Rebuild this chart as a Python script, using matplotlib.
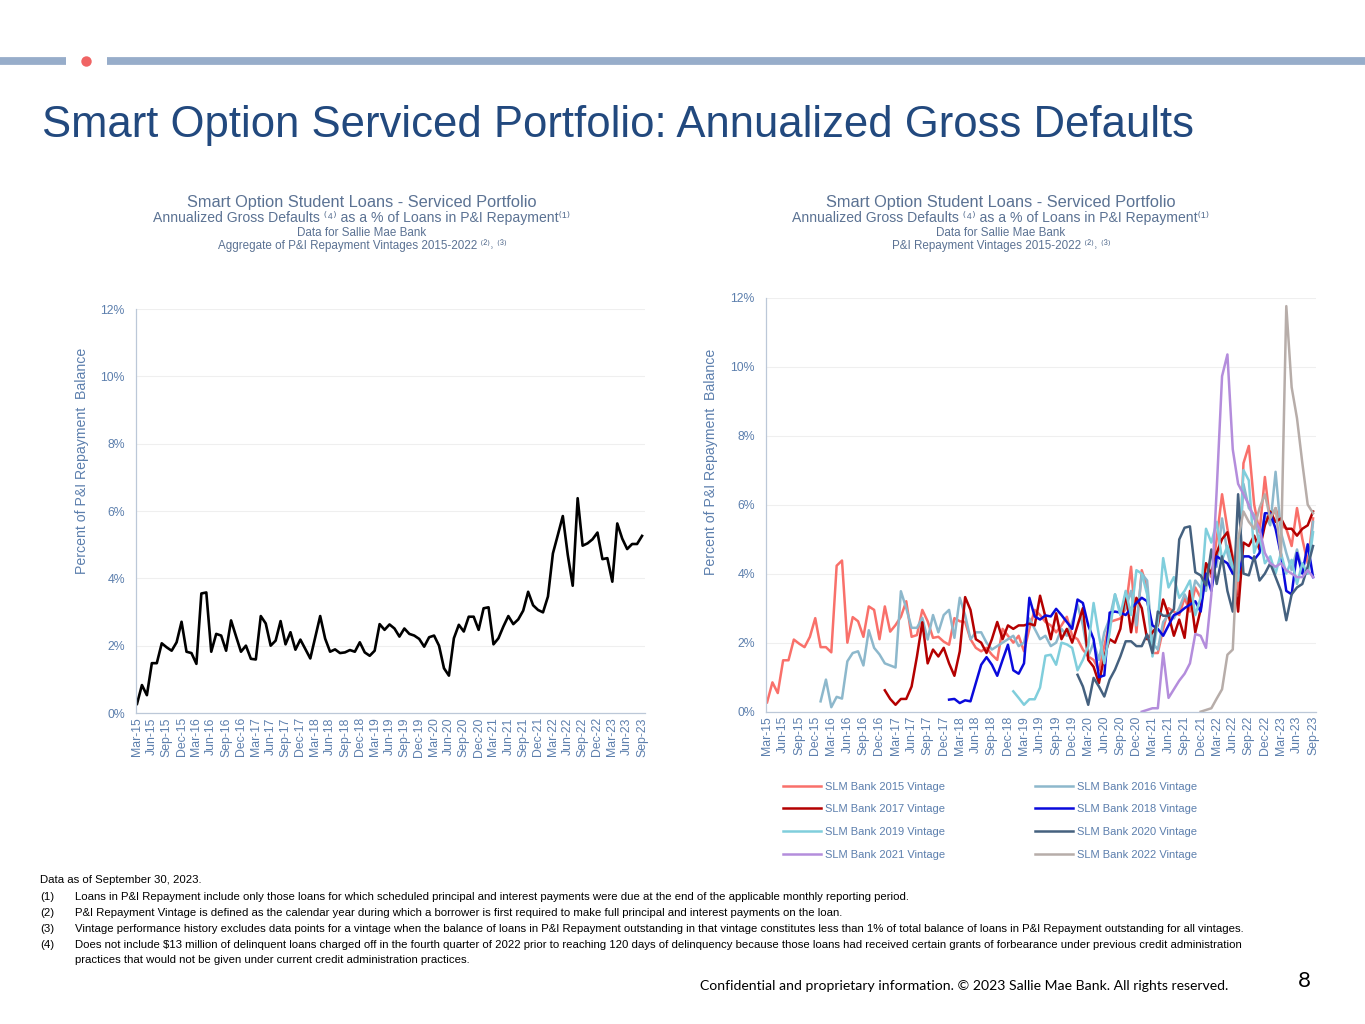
import numpy as np
import pandas as pd
import matplotlib
matplotlib.use("Agg")
import matplotlib.pyplot as plt
from matplotlib.lines import Line2D

plt.rcParams['font.family'] = ['Liberation Sans', 'DejaVu Sans']

# monthly points Mar-15 .. Sep-23, axis labels every quarter
months = pd.date_range('2015-03-01', '2023-09-01', freq='MS').strftime('%b-%y').tolist()
tick_labels = months[::3]

# aggregate of P&I repayment vintages 2015-2022 (%)
aggregate = [0.27, 0.83, 0.53, 1.48, 1.48, 2.07, 1.95, 1.85, 2.10, 2.71,
             1.82, 1.78, 1.46, 3.55, 3.58, 1.82, 2.35, 2.30, 1.85, 2.75,
             2.28, 1.82, 2.00, 1.61, 1.59, 2.88, 2.66, 2.00, 2.15, 2.73,
             2.04, 2.40, 1.88, 2.18, 1.90, 1.62, 2.25, 2.88, 2.21, 1.82,
             1.89, 1.78, 1.80, 1.87, 1.82, 2.10, 1.80, 1.70, 1.85, 2.64,
             2.47, 2.63, 2.51, 2.27, 2.51, 2.35, 2.30, 2.20, 1.97, 2.25,
             2.30, 2.00, 1.33, 1.11, 2.22, 2.62, 2.42, 2.86, 2.86, 2.47,
             3.11, 3.14, 2.04, 2.22, 2.57, 2.88, 2.64, 2.78, 3.04, 3.60,
             3.20, 3.06, 2.99, 3.46, 4.74, 5.29, 5.85, 4.70, 3.78, 6.38,
             4.97, 5.04, 5.16, 5.36, 4.57, 4.60, 3.90, 5.63, 5.18, 4.87,
             5.02, 5.02, 5.26]

# per-vintage series (%), each starting at its first month
v2015_start = 'Mar-15'
v2015 = [0.27, 0.85, 0.54, 1.49, 1.49, 2.09, 1.97, 1.87, 2.17, 2.71,
         1.87, 1.87, 1.72, 4.23, 4.38, 2.00, 2.74, 2.62, 2.17, 3.05,
         2.95, 2.10, 3.05, 2.32, 2.51, 2.75, 3.20, 2.17, 2.22, 2.95,
         2.62, 2.14, 2.17, 2.03, 1.94, 2.71, 2.62, 2.60, 2.10, 1.85,
         1.75, 1.85, 1.65, 1.50, 2.40, 2.20, 2.00, 2.20, 1.75, 2.40,
         2.95, 2.80, 2.60, 2.50, 2.30, 2.50, 2.75, 2.20, 2.10, 1.80,
         1.60, 1.50, 1.20, 1.90, 2.60, 2.65, 2.70, 3.00, 4.20, 2.30,
         4.10, 3.60, 1.70, 1.70, 2.40, 3.00, 2.90, 2.80, 3.30, 2.90,
         3.60, 3.30, 4.30, 3.90, 5.00, 6.30, 5.30, 4.50, 3.40, 7.20,
         7.70, 6.00, 5.20, 6.80, 5.50, 5.90, 5.40, 5.30, 4.80, 5.90,
         5.00, 4.30, 5.60]
v2016_start = 'Jan-16'
v2016 = [0.30, 0.93, 0.13, 0.43, 0.38, 1.46, 1.70, 1.75, 1.34, 2.36,
         1.85, 1.66, 1.40, 1.34, 1.28, 3.49, 3.00, 2.43, 2.43, 2.72,
         2.09, 2.80, 2.30, 2.80, 2.95, 2.14, 3.30, 2.80, 2.10, 2.30,
         2.30, 2.00, 1.80, 1.90, 2.00, 2.10, 2.20, 1.90, 2.00, 2.70,
         2.40, 2.10, 2.20, 1.90, 2.00, 2.40, 2.20, 2.60, 3.10, 2.50,
         1.60, 2.00, 1.50, 2.30, 2.70, 3.40, 2.90, 3.00, 3.50, 2.50,
         4.00, 3.80, 2.00, 1.80, 2.60, 2.80, 2.70, 3.00, 3.40, 3.10,
         3.80, 3.60, 3.50, 4.60, 4.20, 5.60, 4.60, 4.00, 3.80, 6.60,
         5.90, 5.70, 4.80, 5.70, 5.40, 6.95, 5.20, 4.60, 4.10, 4.70,
         4.10, 4.00, 5.50]
v2017_start = 'Jan-17'
v2017 = [0.62, 0.37, 0.20, 0.37, 0.37, 0.73, 1.60, 2.59,
         1.40, 1.80, 1.60, 1.85, 1.40, 1.04, 1.75, 3.32, 2.95, 2.10,
         2.00, 1.70, 2.10, 2.60, 2.10, 2.50, 2.40, 2.50, 2.50, 2.55,
         2.50, 3.36, 2.75, 2.10, 2.85, 2.10, 2.40, 2.00, 2.50, 3.00,
         1.50, 1.30, 0.83, 1.60, 2.10, 2.00, 2.40, 3.45, 2.30, 3.30,
         3.00, 2.10, 2.30, 2.50, 3.25, 2.80, 2.20, 2.67, 2.14, 3.50,
         2.30, 2.96, 4.30, 4.00, 4.60, 5.00, 5.20, 4.40, 2.90, 4.90,
         4.80, 5.10, 4.70, 5.40, 5.80, 5.50, 5.60, 5.30, 5.30, 5.10,
         5.30, 5.40, 5.80]
v2018_start = 'Jan-18'
v2018 = [0.35, 0.37, 0.25, 0.33, 0.30, 0.83,
         1.36, 1.58, 1.36, 1.04, 1.50, 1.94, 1.20, 1.10, 1.40, 3.30,
         2.76, 2.67, 2.79, 2.76, 2.98, 2.80, 2.60, 2.40, 3.25, 3.15,
         2.50, 2.10, 1.00, 1.05, 2.87, 2.90, 2.87, 2.80, 3.00, 3.15,
         3.30, 3.20, 2.50, 2.40, 2.20, 2.50, 2.80, 2.87, 3.00, 3.10,
         3.20, 2.90, 4.00, 3.50, 4.50, 4.40, 4.30, 4.00, 4.00, 4.50,
         4.50, 4.40, 4.60, 5.75, 5.75, 5.30, 4.55, 3.50, 3.40, 4.60,
         4.00, 4.85, 3.90]
v2019_start = 'Jan-19'
v2019 = [0.59, 0.40, 0.20, 0.36,
         0.36, 0.70, 1.62, 1.65, 1.36, 2.00, 1.95, 1.85, 1.20, 1.50,
         1.90, 3.15, 2.20, 1.40, 2.30, 3.40, 2.80, 3.50, 2.80, 4.10,
         4.00, 3.40, 1.60, 2.60, 4.45, 3.60, 3.90, 3.30, 3.50, 3.80,
         2.80, 3.30, 5.30, 4.90, 5.50, 4.40, 4.80, 4.20, 3.80, 7.00,
         6.70, 4.60, 5.10, 4.30, 4.50, 4.00, 4.60, 4.00, 4.40, 3.70,
         4.30, 4.00, 5.20]
v2020_start = 'Jan-20'
v2020 = [1.07, 0.73,
         0.20, 0.98, 0.73, 0.44, 0.93, 1.22, 1.60, 2.04, 2.04, 1.90,
         1.90, 2.24, 1.70, 2.90, 2.78, 2.78, 2.97, 4.99, 5.33, 5.37,
         4.04, 3.95, 3.66, 4.70, 3.70, 4.50, 3.50, 2.90, 6.30, 4.00,
         3.95, 4.50, 3.80, 4.00, 4.30, 3.90, 3.50, 2.65, 3.40, 3.60,
         3.70, 4.20, 4.80]
v2021_start = 'Jan-21'
v2021 = [0.00, 0.05, 0.10, 0.10, 1.70, 0.40, 0.65, 0.90, 1.10, 1.40,
         2.25, 2.20, 1.85, 3.40, 6.43, 9.72, 10.35, 7.60, 6.60, 6.30,
         6.00, 5.60, 5.30, 4.60, 4.30, 4.20, 4.30, 4.10, 4.00, 3.90,
         3.90, 4.10, 3.90]
v2022_start = 'Dec-21'
v2022 = [0.00, 0.05, 0.10, 0.38, 0.65, 1.65, 1.80, 5.00, 5.80,
         5.50, 5.30, 5.90, 6.30, 5.60, 5.90, 4.50, 11.75, 9.40, 8.50,
         7.20, 6.00, 5.75]

vintage_names = ['SLM Bank 2015 Vintage', 'SLM Bank 2016 Vintage', 'SLM Bank 2017 Vintage',
                 'SLM Bank 2018 Vintage', 'SLM Bank 2019 Vintage', 'SLM Bank 2020 Vintage',
                 'SLM Bank 2021 Vintage', 'SLM Bank 2022 Vintage']
vintage_colors = ['#F9706A', '#8DB8CC', '#B40000', '#0A0ADC',
                  '#80CEDC', '#45617F', '#B48DDC', '#B7ADA9']


def pad(start, vals):
    arr = np.full(len(months), np.nan)
    i = months.index(start)
    arr[i:i + len(vals)] = vals
    return arr


vintages = [pad(v2015_start, v2015), pad(v2016_start, v2016), pad(v2017_start, v2017),
            pad(v2018_start, v2018), pad(v2019_start, v2019), pad(v2020_start, v2020),
            pad(v2021_start, v2021), pad(v2022_start, v2022)]

W, H = 1365, 1024
blue_txt = '#5C7FAD'
title_txt = '#5B7293'


def box(x0, y0, x1, y1):
    return [x0 / W, 1 - y1 / H, (x1 - x0) / W, (y1 - y0) / H]


fig = plt.figure(figsize=(W / 100, H / 100), dpi=100)

# header band and title
bar_y = 1 - 61 / H
fig.add_artist(Line2D([0, 66 / W], [bar_y, bar_y], transform=fig.transFigure,
                      color='#97ADCA', lw=5.6, solid_capstyle='butt'))
fig.add_artist(Line2D([107 / W, 1], [bar_y, bar_y], transform=fig.transFigure,
                      color='#97ADCA', lw=5.6, solid_capstyle='butt'))
fig.add_artist(Line2D([86 / W], [bar_y], transform=fig.transFigure, marker='o',
                      ms=7.5, color='#F06464', mec='none', ls='none'))
fig.text(42 / W, 1 - 125 / H, 'Smart Option Serviced Portfolio: Annualized Gross Defaults',
         fontsize=31.4, color='#22497E', va='center', ha='left')

x = np.arange(len(months))


def style_axes(ax):
    for s in ['top', 'right']:
        ax.spines[s].set_visible(False)
    for s in ['left', 'bottom']:
        ax.spines[s].set_color('#BCC8D8')
        ax.spines[s].set_linewidth(0.9)
    ax.set_ylim(0, 12)
    ax.set_yticks(range(0, 13, 2))
    ax.set_yticklabels([f'{v}%' for v in range(0, 13, 2)])
    ax.set_xticks(x[::3])
    ax.set_xticklabels(tick_labels, rotation=90)
    ax.tick_params(axis='both', length=0, labelsize=8.8, labelcolor=blue_txt)
    ax.tick_params(axis='y', pad=8)
    ax.tick_params(axis='x', pad=3)
    ax.yaxis.grid(True, color='#EFEFEF', lw=0.8)
    ax.set_axisbelow(True)
    ax.set_ylabel('Percent of P&I Repayment  Balance', fontsize=10.2, color=blue_txt)


def chart_title(cx, last_line):
    fig.text(cx / W, 1 - 202 / H, 'Smart Option Student Loans - Serviced Portfolio',
             fontsize=11.8, color=title_txt, ha='center', va='center')
    fig.text(cx / W, 1 - 218 / H,
             'Annualized Gross Defaults \u207d\u2074\u207e as a % of Loans in P&I Repayment\u207d\u00b9\u207e',
             fontsize=10.1, color=title_txt, ha='center', va='center')
    fig.text(cx / W, 1 - 233 / H, 'Data for Sallie Mae Bank',
             fontsize=8.4, color=title_txt, ha='center', va='center')
    fig.text(cx / W, 1 - 246 / H, last_line,
             fontsize=8.4, color=title_txt, ha='center', va='center')


# left chart: aggregate
ax1 = fig.add_axes(box(136, 309, 645, 713))
ax1.plot(x, aggregate, color='black', lw=1.9)
style_axes(ax1)
ax1.set_xlim(-0.2, 102.6)
ax1.yaxis.set_label_coords(-0.092, 0.624)
chart_title(362, 'Aggregate of P&I Repayment Vintages 2015-2022 \u207d\u00b2\u207e\u02d2 \u207d\u00b3\u207e')

# right chart: by vintage
ax2 = fig.add_axes(box(766, 297.5, 1316, 711.7))
handles = []
for vals, name, col in zip(vintages, vintage_names, vintage_colors):
    h, = ax2.plot(x, vals, color=col, lw=1.8, label=name)
    handles.append(h)
style_axes(ax2)
ax2.set_xlim(-0.2, 102.55)
ax2.yaxis.set_label_coords(-0.087, 0.603)
chart_title(1001, 'P&I Repayment Vintages 2015-2022 \u207d\u00b2\u207e\u02d2 \u207d\u00b3\u207e')

leg_kw = dict(loc='upper left', bbox_transform=fig.transFigure, frameon=False,
              fontsize=8, handlelength=3.5, handletextpad=0.3, labelspacing=1.14,
              borderpad=0, labelcolor=blue_txt)
leg1 = ax2.legend(handles[0::2], vintage_names[0::2], bbox_to_anchor=(777 / W, 1 - 776 / H), **leg_kw)
ax2.add_artist(leg1)
ax2.legend(handles[1::2], vintage_names[1::2], bbox_to_anchor=(1029 / W, 1 - 776 / H), **leg_kw)

# footnotes
notes = [
    ('', 'Data as of September 30, 2023.'),
    ('(1)', 'Loans in P&I Repayment include only those loans for which scheduled principal and interest payments were due at the end of the applicable monthly reporting period.'),
    ('(2)', 'P&I Repayment Vintage is defined as the calendar year during which a borrower is first required to make full principal and interest payments on the loan.'),
    ('(3)', 'Vintage performance history excludes data points for a vintage when the balance of loans in P&I Repayment outstanding in that vintage constitutes less than 1% of total balance of loans in P&I Repayment outstanding for all vintages.'),
    ('(4)', 'Does not include $13 million of delinquent loans charged off in the fourth quarter of 2022 prior to reaching 120 days of delinquency because those loans had received certain grants of forbearance under previous credit administration'),
    ('', 'practices that would not be given under current credit administration practices.'),
]
note_y = [880, 897, 913, 929, 945, 960]
for (num, txt), yy in zip(notes, note_y):
    if num:
        fig.text(40 / W, 1 - yy / H, num, fontsize=8.2, va='center')
        fig.text(75 / W, 1 - yy / H, txt, fontsize=8.2, va='center')
    elif txt.startswith('Data'):
        fig.text(40 / W, 1 - yy / H, txt, fontsize=8.2, va='center')
    else:
        fig.text(75 / W, 1 - yy / H, txt, fontsize=8.2, va='center')

fig.text(700 / W, 1 - 986 / H,
         'Confidential and proprietary information. \u00a9 2023 Sallie Mae Bank. All rights reserved.',
         fontsize=10.1, family='Lato', va='center', ha='left')
fig.text(1304 / W, 1 - 981 / H, '8', fontsize=16, family='Lato', va='center', ha='center')

fig.savefig('out.png', dpi=100)
